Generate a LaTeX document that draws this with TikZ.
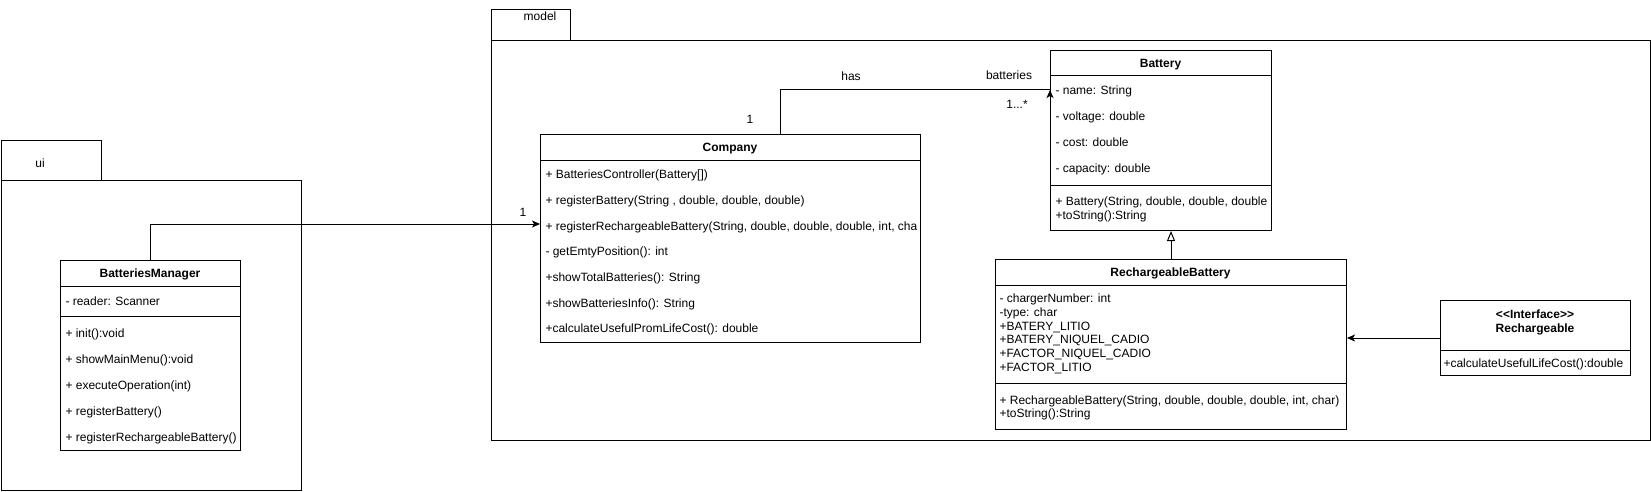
\documentclass[tikz,border=0pt]{standalone}
\usepackage{fontspec}
\setmainfont{Liberation Sans}
\usetikzlibrary{arrows.meta,positioning,calc}

\tikzset{
  pkg/.style={draw, anchor=north west, inner sep=0pt},
  clsbox/.style={draw, anchor=north west, inner sep=0pt},
  clsname/.style={inner sep=0pt, font=\fontsize{12}{14}\selectfont\bfseries, text height=10.5pt, text depth=1pt},
  member/.style={anchor=west, inner sep=0pt, text height=10.5pt, text depth=1pt},
  lbl/.style={inner sep=0pt, text height=10.5pt, text depth=1pt},
  assoc/.style={-{Stealth[length=8pt,width=7pt,inset=2pt]}},
  inherit/.style={-{Triangle[open,length=10pt,width=8pt]}},
}

\begin{document}
\begin{tikzpicture}[x=1pt, y=-1pt, line width=1pt, font=\fontsize{12}{14}\selectfont]
  \useasboundingbox (0,0) rectangle (1651,492);
  % packages
  \node[pkg, minimum width=100pt, minimum height=40pt] (ui-tab) at (0.5,140) {};
  \node[pkg, minimum width=300pt, minimum height=310pt] (ui) at (0.5,180) {};
  \node[lbl] (ui-name) at (40,163) {ui};
  \node[pkg, minimum width=79pt, minimum height=30.5pt] (model-tab) at (491,9.5) {};
  \node[pkg, minimum width=1159pt, minimum height=400pt] (model) at (491,40) {};
  \node[lbl] (model-name) at (540,16) {model};

  % BatteriesManager
  \node[clsbox, minimum width=180pt, minimum height=190pt] (manager) at (60,260) {};
  \node[clsname] (manager-t) at (150,273) {BatteriesManager};
  \draw (60,286) -- (240,286) (60,316) -- (240,316);
  \node[member] (manager-a1) at (65,301) {- reader: Scanner};
  \foreach \m [count=\i] in {{+ init():void}, {+ showMainMenu():void},
      {+ executeOperation(int)}, {+ registerBattery()}, {+ registerRechargeableBattery()}}
    \node[member] (manager-m\i) at (65,{333+26*(\i-1)}) {\m};

  % Company
  \node[clsbox, minimum width=380pt, minimum height=208pt] (company) at (540,134) {};
  \node[clsname] (company-t) at (730,147) {Company};
  \draw (540,160) -- (920,160);
  \foreach \m [count=\i] in {{+ BatteriesController(Battery[])},
      {+ registerBattery(String , double, double, double)},
      {+ registerRechargeableBattery(String, double, double, double, int, cha},
      {- getEmtyPosition(): int}, {+showTotalBatteries(): String},
      {+showBatteriesInfo(): String}, {+calculateUsefulPromLifeCost(): double}}
    \node[member] (company-m\i) at (545,{174+25.7*(\i-1)}) {\m};

  % Battery
  \node[clsbox, minimum width=221pt, minimum height=180pt] (battery) at (1050,50) {};
  \node[clsname] (battery-t) at (1160.5,63) {Battery};
  \draw (1050,76) -- (1271,76) (1050,185) -- (1271,185);
  \foreach \m [count=\i] in {{- name: String}, {- voltage: double},
      {- cost: double}, {- capacity: double}}
    \node[member] (battery-a\i) at (1055,{90+26*(\i-1)}) {\m};
  \foreach \m [count=\i] in {{+ Battery(String, double, double, double}, {+toString():String}}
    \node[member] (battery-m\i) at (1055,{201+14*(\i-1)}) {\m};

  % RechargeableBattery
  \node[clsbox, minimum width=351pt, minimum height=170pt] (rb) at (995,259) {};
  \node[clsname] (rb-t) at (1170.5,272) {RechargeableBattery};
  \draw (995,285) -- (1346,285) (995,383) -- (1346,383);
  \foreach \m [count=\i] in {{- chargerNumber: int}, {-type: char}, {+BATERY\_LITIO},
      {+BATERY\_NIQUEL\_CADIO}, {+FACTOR\_NIQUEL\_CADIO}, {+FACTOR\_LITIO}}
    \node[member] (rb-a\i) at (999,{298+13.7*(\i-1)}) {\m};
  \foreach \m [count=\i] in {{+ RechargeableBattery(String, double, double, double, int, char)},
      {+toString():String}}
    \node[member] (rb-m\i) at (999,{399.5+13.7*(\i-1)}) {\m};

  % Rechargeable
  \node[clsbox, minimum width=190pt, minimum height=75pt] (iface) at (1440,300) {};
  \node[clsname] (iface-s) at (1535,314) {<{}<Interface>{}>};
  \node[clsname] (iface-t) at (1535,328) {Rechargeable};
  \draw (1440,350.5) -- (1630,350.5);
  \node[member] (iface-m1) at (1443,363) {+calculateUsefulLifeCost():double};

  % connectors
  \coordinate (co-in) at ([yshift=-90pt]company.north west);
  \draw[assoc] (manager.north) |- (co-in);
  \node[lbl] (one-a) at (523,212) {1};

  \coordinate (has-a) at ([xshift=50pt]company.north);
  \coordinate (bat-in) at ([yshift=-40pt]battery.north west);
  \draw (has-a) |- (bat-in);
  \draw[assoc] ([yshift=-8pt]bat-in) -- (bat-in);
  \node[lbl] (has) at (851,76) {has};
  \node[lbl] (one-b) at (750,119) {1};
  \node[lbl] (batteries) at (1009,75) {batteries};
  \node[lbl] (many) at (1017,104) {1...*};

  \draw[inherit] (rb.north) -- (rb.north |- battery.south);
  \draw[assoc] (iface.west) -- (iface.west -| rb.east);
\end{tikzpicture}
\end{document}
